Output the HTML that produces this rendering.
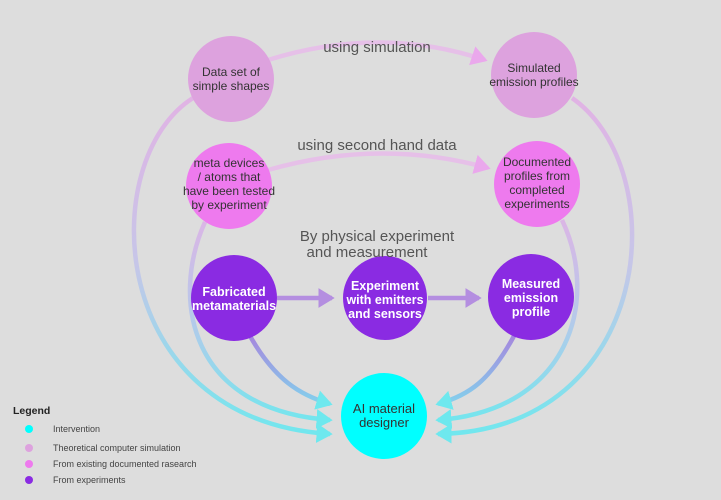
<!DOCTYPE html>
<html><head><meta charset="utf-8"><style>
body{margin:0;background:#dddddd;}
svg{display:block;font-family:"Liberation Sans",sans-serif;}
</style></head><body>
<svg width="721" height="500" viewBox="0 0 721 500">
<defs>
<linearGradient id="g1" gradientUnits="userSpaceOnUse" x1="0" y1="90" x2="0" y2="440">
<stop offset="0" stop-color="#e2b2e4"/><stop offset="0.5" stop-color="#c6c6e8"/><stop offset="1" stop-color="#6ee8ee"/></linearGradient>
<linearGradient id="g2" gradientUnits="userSpaceOnUse" x1="0" y1="200" x2="0" y2="430">
<stop offset="0" stop-color="#e2b2e4"/><stop offset="0.5" stop-color="#b8c8ea"/><stop offset="1" stop-color="#6ee8ee"/></linearGradient>
<linearGradient id="g3" gradientUnits="userSpaceOnUse" x1="0" y1="330" x2="0" y2="410">
<stop offset="0" stop-color="#a880dc"/><stop offset="1" stop-color="#80d8ee"/></linearGradient>
<marker id="ac" markerWidth="6" markerHeight="6" refX="3" refY="3" orient="auto" markerUnits="strokeWidth"><path d="M0,0.8 L3.6,3 L0,5.2 Z" fill="#6ee8ee"/></marker>
<marker id="ap" markerWidth="6" markerHeight="6" refX="3" refY="3" orient="auto" markerUnits="strokeWidth"><path d="M0,0.8 L3.6,3 L0,5.2 Z" fill="#b48ee0"/></marker>
<marker id="ak" markerWidth="6" markerHeight="6" refX="3" refY="3" orient="auto" markerUnits="strokeWidth"><path d="M0,0.8 L3.6,3 L0,5.2 Z" fill="#eaa8ec"/></marker>
</defs>
<g fill="none" stroke-width="4.5">
<path d="M268,60 Q380,25 485,60" stroke="#e6c0e8" marker-end="url(#ak)"/>
<path d="M268,170 Q380,138 488,168" stroke="#e6c0e8" marker-end="url(#ak)"/>
<path d="M193,98 C95,160 105,420 330,434" stroke="url(#g1)" marker-end="url(#ac)"/>
<path d="M572,98 C675,170 655,430 438,434" stroke="url(#g1)" marker-end="url(#ac)"/>
<path d="M205,222 C170,300 190,410 330,420" stroke="url(#g2)" marker-end="url(#ac)"/>
<path d="M562,220 C600,300 570,410 438,420" stroke="url(#g2)" marker-end="url(#ac)"/>
<path d="M250,336 C275,380 300,395 330,404" stroke="url(#g3)" marker-end="url(#ac)"/>
<path d="M514,336 C490,380 470,395 438,404" stroke="url(#g3)" marker-end="url(#ac)"/>
<path d="M277,298 L332,298" stroke="#b48ee0" marker-end="url(#ap)"/>
<path d="M428,298 L479,298" stroke="#b48ee0" marker-end="url(#ap)"/>
</g>
<circle cx="231" cy="79" r="43" fill="#dda2de"/>
<circle cx="534" cy="75" r="43" fill="#dda2de"/>
<circle cx="229" cy="186" r="43" fill="#ee7aee"/>
<circle cx="537" cy="184" r="43" fill="#ee7aee"/>
<circle cx="234" cy="298" r="43" fill="#8a2be2"/>
<circle cx="385" cy="298" r="42" fill="#8a2be2"/>
<circle cx="531" cy="297" r="43" fill="#8a2be2"/>
<circle cx="384" cy="416" r="43" fill="#00ffff"/>
<g font-size="12" fill="#333" text-anchor="middle">
<text x="231" y="76">Data set of</text><text x="231" y="90">simple shapes</text>
<text x="534" y="72">Simulated</text><text x="534" y="86">emission profiles</text>
<text x="229" y="167">meta devices</text><text x="229" y="181">/ atoms that</text><text x="229" y="195">have been tested</text><text x="229" y="209">by experiment</text>
<text x="537" y="166">Documented</text><text x="537" y="180">profiles from</text><text x="537" y="194">completed</text><text x="537" y="208">experiments</text>
</g>
<g font-size="12.5" font-weight="bold" fill="#fff" text-anchor="middle">
<text x="234" y="296">Fabricated</text><text x="234" y="310">metamaterials</text>
<text x="385" y="290">Experiment</text><text x="385" y="304">with emitters</text><text x="385" y="318">and sensors</text>
<text x="531" y="288">Measured</text><text x="531" y="302">emission</text><text x="531" y="316">profile</text>
</g>
<g font-size="13" fill="#333" text-anchor="middle">
<text x="384" y="413">AI material</text><text x="384" y="427">designer</text>
</g>
<g font-size="15" fill="#555" text-anchor="middle">
<text x="377" y="52">using simulation</text>
<text x="377" y="150">using second hand data</text>
<text x="377" y="241">By physical experiment</text>
<text x="367" y="257">and measurement</text>
</g>
<text x="13" y="414" font-size="10.5" font-weight="bold" fill="#222">Legend</text>
<g font-size="9" fill="#444">
<circle cx="29" cy="429" r="4" fill="#00ffff"/><text x="53" y="432">Intervention</text>
<circle cx="29" cy="448" r="4" fill="#dda2de"/><text x="53" y="451">Theoretical computer simulation</text>
<circle cx="29" cy="464" r="4" fill="#ee7aee"/><text x="53" y="467">From existing documented rasearch</text>
<circle cx="29" cy="480" r="4" fill="#8a2be2"/><text x="53" y="483">From experiments</text>
</g>
</svg>
</body></html>
